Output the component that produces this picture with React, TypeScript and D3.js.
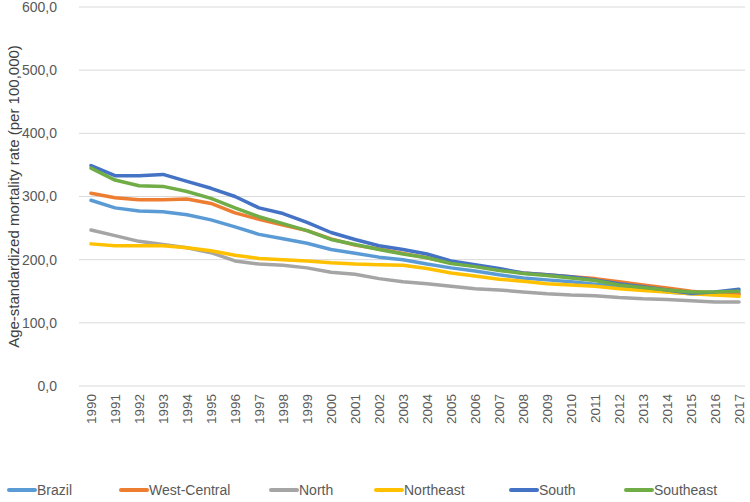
import React from "react";
import * as d3 from "d3";

const years = [1990,1991,1992,1993,1994,1995,1996,1997,1998,1999,2000,2001,2002,2003,2004,2005,2006,2007,2008,2009,2010,2011,2012,2013,2014,2015,2016,2017];
const yTicks = [0, 100, 200, 300, 400, 500, 600];

const brazil = [294,282,277,276,271,263,252,240,233,226,216,210,204,200,193,187,182,176,171,168,165,161,157,153,149,146,145,147];
const westCentral = [305,298,295,295,296,289,274,264,255,246,233,223,217,210,203,195,190,184,179,176,173,170,165,160,155,150,147,145];
const north = [247,238,229,224,219,211,198,193,191,187,180,177,170,165,162,158,154,152,149,146,144,143,140,138,137,135,133,133];
const northeast = [225,222,222,222,219,214,207,202,200,198,195,193,192,191,186,179,174,169,166,162,160,158,154,151,149,146,144,142];
const south = [349,333,333,335,324,313,300,282,273,259,243,232,222,216,209,198,192,186,179,176,173,168,162,157,152,147,149,153];
const southeast = [345,326,317,316,308,297,282,268,257,246,232,224,216,209,203,194,189,183,178,175,171,167,160,156,152,149,149,150];

const seriesNames = ["Brazil", "West-Central", "North", "Northeast", "South", "Southeast"];
const seriesValues = [brazil, westCentral, north, northeast, south, southeast];
const colors = ["#5B9BD5", "#ED7D31", "#A5A5A5", "#FFC000", "#4472C4", "#70AD47"];

const W = 750, H = 502;
const plotLeft = 79, plotRight = 751, plotTop = 7, plotBottom = 386;
const FONT = "'Liberation Sans', Arial, sans-serif";

export default function App() {
  const x = d3.scaleBand<number>().domain(years).range([plotLeft, plotRight]);
  const y = d3.scaleLinear().domain([0, 600]).range([plotBottom, plotTop]);
  const cx = (yr: number) => (x(yr) as number) + x.bandwidth() / 2;
  const line = d3.line<number>().x((_, i) => cx(years[i])).y((v) => y(v));

  const legendX = [8, 120, 270, 375, 510, 625];

  return (
    <svg width={W} height={H} style={{ position: "absolute", left: 0, top: 0, background: "#fff" }} fontFamily={FONT}>
      {yTicks.map((t) => (
        <g key={t}>
          <line x1={plotLeft} x2={plotRight - 6} y1={y(t)} y2={y(t)} stroke="#D9D9D9" strokeWidth={1} />
          <text x={57} y={y(t)} dy="0.35em" textAnchor="end" fontSize={14} fill="#595959">
            {d3.format(".1f")(t).replace(".", ",")}
          </text>
        </g>
      ))}
      {years.map((yr) => (
        <text key={yr} transform={`translate(${cx(yr)},${plotBottom + 8}) rotate(-90)`} textAnchor="end" dy="0.35em" fontSize={13.5} fill="#595959">
          {yr}
        </text>
      ))}
      <text transform={`translate(14,${(plotTop + plotBottom) / 2}) rotate(-90)`} textAnchor="middle" dy="0.35em" fontSize={15} fill="#404040">
        Age-standardized  mortality rate (per 100,000)
      </text>
      {seriesValues.map((vals, i) => (
        <path key={seriesNames[i]} d={line(vals) || ""} fill="none" stroke={colors[i]} strokeWidth={3.5} strokeLinejoin="round" strokeLinecap="round" />
      ))}
      {seriesNames.map((name, i) => (
        <g key={name} transform={`translate(${legendX[i]},490)`}>
          <line x1={1} x2={27} y1={0} y2={0} stroke={colors[i]} strokeWidth={4} strokeLinecap="round" />
          <text x={29} y={0} dy="0.35em" fontSize={14} fill="#595959">{name}</text>
        </g>
      ))}
    </svg>
  );
}
